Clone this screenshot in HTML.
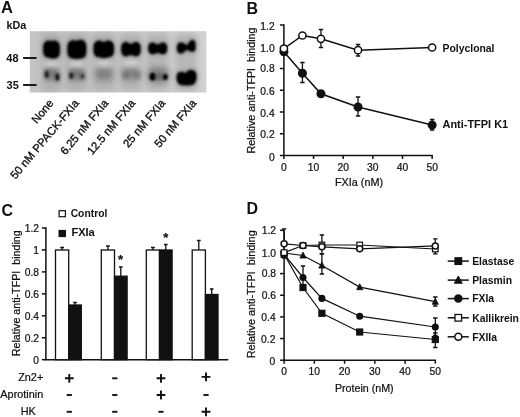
<!DOCTYPE html><html><head><meta charset="utf-8"><title>Figure</title>
<style>html,body{margin:0;padding:0;background:#fff;overflow:hidden}svg{display:block}text{font-family:"Liberation Sans",Arial,sans-serif;fill:#111}.t{stroke:#111;stroke-width:0.22px}.t{font-size:10.3px}.b{font-weight:bold;font-size:10.4px}.pl{font-weight:bold;font-size:16px}.ax{stroke:#111;stroke-width:1.5;fill:none}.ln{stroke:#111;stroke-width:1.5;fill:none}.eb{stroke:#111;stroke-width:1.3;fill:none}</style></head><body>
<svg width="520" height="417" viewBox="0 0 520 417">
<defs><filter id="b1" x="-30%" y="-30%" width="160%" height="160%"><feGaussianBlur stdDeviation="1.7"/></filter><filter id="b0" x="-50%" y="-50%" width="200%" height="200%"><feGaussianBlur stdDeviation="1.1"/></filter><filter id="b2" x="-30%" y="-30%" width="160%" height="160%"><feGaussianBlur stdDeviation="2.6"/></filter><filter id="b3" x="-50%" y="-50%" width="200%" height="200%"><feGaussianBlur stdDeviation="3"/></filter><linearGradient id="gb" x1="0" x2="1" y1="0" y2="0"><stop offset="0" stop-color="#c4c4c4"/><stop offset="1" stop-color="#d2d2d2"/></linearGradient><clipPath id="gc"><rect x="29.8" y="31.2" width="176.6" height="61.3"/></clipPath></defs>
<rect width="520" height="417" fill="#fff"/>
<text class="pl" x="1.0" y="13.2" style="font-size:16.5px">A</text>
<text class="b" x="6.5" y="29" textLength="19.8" lengthAdjust="spacingAndGlyphs">kDa</text>
<text class="b" x="6.3" y="61.5" textLength="12.2" lengthAdjust="spacingAndGlyphs">48</text>
<text class="b" x="6.6" y="88.8" textLength="12.2" lengthAdjust="spacingAndGlyphs">35</text>
<rect x="29.8" y="31.2" width="176.6" height="61.3" fill="url(#gb)"/>
<g clip-path="url(#gc)">
<rect x="41.5" y="33" width="20.0" height="58" rx="4" fill="#555" opacity="0.2" filter="url(#b3)"/>
<rect x="65.8" y="33" width="22.0" height="58" rx="4" fill="#555" opacity="0.2" filter="url(#b3)"/>
<rect x="92.3" y="33" width="23.0" height="58" rx="4" fill="#555" opacity="0.2" filter="url(#b3)"/>
<rect x="120.0" y="33" width="22.0" height="58" rx="4" fill="#555" opacity="0.2" filter="url(#b3)"/>
<rect x="146.8" y="33" width="22.0" height="58" rx="4" fill="#555" opacity="0.2" filter="url(#b3)"/>
<rect x="175.3" y="33" width="22.0" height="58" rx="4" fill="#555" opacity="0.2" filter="url(#b3)"/>
<ellipse cx="51.5" cy="63.3" rx="8" ry="3" fill="#fff" opacity="0.45" filter="url(#b2)"/>
<ellipse cx="76.8" cy="63.3" rx="8" ry="3" fill="#fff" opacity="0.45" filter="url(#b2)"/>
<ellipse cx="103.8" cy="63.3" rx="8" ry="3" fill="#fff" opacity="0.45" filter="url(#b2)"/>
<ellipse cx="131" cy="63.3" rx="8" ry="3" fill="#fff" opacity="0.45" filter="url(#b2)"/>
<path d="M45 72.5Q45 68.5 49 68.5Q51.75 68.5 54.5 68.5Q58.5 68.5 58.5 72.5L58.5 76Q58.5 80 54.5 80Q51.75 80.0 49 80Q45 80 45 76Z" fill="#000" opacity="0.3" filter="url(#b2)"/>
<ellipse cx="46.6" cy="74.3" rx="1.5" ry="3.6" fill="#000" opacity="0.85" filter="url(#b0)"/>
<ellipse cx="46.8" cy="74.3" rx="2.4" ry="4.5" fill="#000" opacity="0.35" filter="url(#b2)"/>
<ellipse cx="57.4" cy="77.2" rx="1.6" ry="3.6" fill="#000" opacity="0.95" filter="url(#b0)"/>
<ellipse cx="57.3" cy="77" rx="2.4" ry="4.5" fill="#000" opacity="0.35" filter="url(#b2)"/>
<path d="M69 73Q69 69 73 69Q77.0 69.0 81 69Q85 69 85 73L85 76Q85 80 81 80Q77.0 80.0 73 80Q69 80 69 76Z" fill="#000" opacity="0.3" filter="url(#b2)"/>
<ellipse cx="71.2" cy="75.6" rx="1.6" ry="3.2" fill="#000" opacity="0.85" filter="url(#b0)"/>
<ellipse cx="71.3" cy="75.6" rx="2.4" ry="4.2" fill="#000" opacity="0.35" filter="url(#b2)"/>
<ellipse cx="82.5" cy="76.5" rx="1.7" ry="2.4" fill="#000" opacity="0.5" filter="url(#b0)"/>
<ellipse cx="82.4" cy="76.3" rx="2.4" ry="3.5" fill="#000" opacity="0.3" filter="url(#b2)"/>
<path d="M95 73.5Q95 68.5 100 68.5Q104.0 68.5 108 68.5Q113 68.5 113 73.5L113 74.5Q113 79.5 108 79.5Q104.0 79.5 100 79.5Q95 79.5 95 74.5Z" fill="#000" opacity="0.3" filter="url(#b3)"/>
<path d="M122 73.5Q122 68.5 127 68.5Q131.0 68.5 135 68.5Q140 68.5 140 73.5L140 74.5Q140 79.5 135 79.5Q131.0 79.5 127 79.5Q122 79.5 122 74.5Z" fill="#000" opacity="0.3" filter="url(#b3)"/>
<ellipse cx="125" cy="75.5" rx="2.5" ry="3" fill="#000" opacity="0.3" filter="url(#b2)"/>
<ellipse cx="138" cy="75.5" rx="2.5" ry="3" fill="#000" opacity="0.3" filter="url(#b2)"/>
<path d="M148 73Q148 68 153 68Q158.25 68.0 163.5 68Q168.5 68 168.5 73L168.5 77Q168.5 82 163.5 82Q158.25 82.0 153 82Q148 82 148 77Z" fill="#000" opacity="0.33" filter="url(#b3)"/>
<ellipse cx="152.5" cy="76.7" rx="3.0" ry="3.9" fill="#000" opacity="1" filter="url(#b0)"/>
<ellipse cx="165.3" cy="77.1" rx="2.5" ry="3.0" fill="#000" opacity="1" filter="url(#b0)"/>
<ellipse cx="159" cy="77" rx="4" ry="2" fill="#000" opacity="0.35" filter="url(#b2)"/>
<path d="M176.7 77.5Q176.5 72.2 180.5 72Q183.5 72 185.8 73.2Q187.5 70 191 69.9Q196.4 70 196.4 76L196.3 78.5Q196 85.2 189 85.2L184 85.2Q177 85.2 176.7 78.5Z" fill="#000" opacity="0.5" filter="url(#b2)"/>
<path d="M176.7 77.5Q176.5 72.2 180.5 72Q183.5 72 185.8 73.2Q187.5 70 191 69.9Q196.4 70 196.4 76L196.3 78.5Q196 85.2 189 85.2L184 85.2Q177 85.2 176.7 78.5Z" fill="#000" opacity="1" filter="url(#b0)"/>
<path d="M43.3 46.9Q43.3 40.4 49.8 40.4Q51.5 42.4 53.2 40.4Q59.7 40.4 59.7 46.9L59.7 51.900000000000006Q59.7 58.400000000000006 53.2 58.400000000000006Q51.5 58.45 49.8 57.7Q43.3 57.7 43.3 51.2Z" fill="#000" opacity="0.45" filter="url(#b2)"/>
<path d="M43.3 46.9Q43.3 40.4 49.8 40.4Q51.5 42.4 53.2 40.4Q59.7 40.4 59.7 46.9L59.7 51.900000000000006Q59.7 58.400000000000006 53.2 58.400000000000006Q51.5 58.45 49.8 57.7Q43.3 57.7 43.3 51.2Z" fill="#000" opacity="1" filter="url(#b0)"/>
<path d="M67.5 46.8Q67.5 40.3 74.0 40.3Q76.85 42.05 79.7 39.8Q86.2 39.8 86.2 46.3L86.2 52.1Q86.2 58.6 79.7 58.6Q76.85 59.0 74.0 58.6Q67.5 58.6 67.5 52.1Z" fill="#000" opacity="0.45" filter="url(#b2)"/>
<path d="M67.5 46.8Q67.5 40.3 74.0 40.3Q76.85 42.05 79.7 39.8Q86.2 39.8 86.2 46.3L86.2 52.1Q86.2 58.6 79.7 58.6Q76.85 59.0 74.0 58.6Q67.5 58.6 67.5 52.1Z" fill="#000" opacity="1" filter="url(#b0)"/>
<path d="M93.6 46.9Q93.6 40.4 100.1 40.4Q103.75 43.6 107.4 40.4Q113.9 40.4 113.9 46.9L113.9 50.8Q113.9 57.3 107.4 57.3Q103.75 58.9 100.1 57.3Q93.6 57.3 93.6 50.8Z" fill="#000" opacity="0.45" filter="url(#b2)"/>
<path d="M93.6 46.9Q93.6 40.4 100.1 40.4Q103.75 43.6 107.4 40.4Q113.9 40.4 113.9 46.9L113.9 50.8Q113.9 57.3 107.4 57.3Q103.75 58.9 100.1 57.3Q93.6 57.3 93.6 50.8Z" fill="#000" opacity="1" filter="url(#b0)"/>
<path d="M121.3 47.6Q121.3 42.1 126.8 42.1Q130.9 45.9 135.0 42.1Q140.5 42.1 140.5 47.6L140.5 50.8Q140.5 56.3 135.0 56.3Q130.9 53.3 126.8 56.3Q121.3 56.3 121.3 50.8Z" fill="#000" opacity="0.45" filter="url(#b2)"/>
<path d="M121.3 47.6Q121.3 42.1 126.8 42.1Q130.9 45.9 135.0 42.1Q140.5 42.1 140.5 47.6L140.5 50.8Q140.5 56.3 135.0 56.3Q130.9 53.3 126.8 56.3Q121.3 56.3 121.3 50.8Z" fill="#000" opacity="1" filter="url(#b0)"/>
<path d="M148.3 47.5Q148.3 42.5 153.3 42.5Q157.7 46.5 162.1 42.5Q167.1 42.5 167.1 47.5L167.1 49.3Q167.1 54.3 162.1 54.3Q157.7 51.3 153.3 54.3Q148.3 54.3 148.3 49.3Z" fill="#000" opacity="0.45" filter="url(#b2)"/>
<path d="M148.3 47.5Q148.3 42.5 153.3 42.5Q157.7 46.5 162.1 42.5Q167.1 42.5 167.1 47.5L167.1 49.3Q167.1 54.3 162.1 54.3Q157.7 51.3 153.3 54.3Q148.3 54.3 148.3 49.3Z" fill="#000" opacity="1" filter="url(#b0)"/>
<path d="M177 47.5Q177 42.4 181.3 42.4Q184.5 43 186.3 45.4Q188.3 44.6 189.2 42.5Q190 39.9 192.4 40Q195.4 40.2 195.4 44.5L195.4 48Q195.4 52.2 192 51.8Q188.5 50.6 186.3 49.6Q184.5 52.6 181.5 53.4Q177 53.6 177 49Z" fill="#000" opacity="0.5" filter="url(#b2)"/>
<path d="M177 47.5Q177 42.4 181.3 42.4Q184.5 43 186.3 45.4Q188.3 44.6 189.2 42.5Q190 39.9 192.4 40Q195.4 40.2 195.4 44.5L195.4 48Q195.4 52.2 192 51.8Q188.5 50.6 186.3 49.6Q184.5 52.6 181.5 53.4Q177 53.6 177 49Z" fill="#000" opacity="1" filter="url(#b0)"/>
</g>
<line x1="23.1" y1="58" x2="36.6" y2="58" stroke="#111" stroke-width="1.9"/>
<line x1="23.1" y1="85" x2="36.6" y2="85" stroke="#111" stroke-width="1.9"/>
<text class="t" style="font-size:11.3px;stroke-width:0.35px" text-anchor="end" transform="translate(54,103.5) rotate(-50)">None</text>
<text class="t" style="font-size:11.3px;stroke-width:0.35px" text-anchor="end" transform="translate(79.5,103.5) rotate(-50)">50 nM PPACK-FXIa</text>
<text class="t" style="font-size:11.3px;stroke-width:0.35px" text-anchor="end" transform="translate(109,103.5) rotate(-50)">6.25 nM FXIa</text>
<text class="t" style="font-size:11.3px;stroke-width:0.35px" text-anchor="end" transform="translate(135.8,103.5) rotate(-50)">12.5 nM FXIa</text>
<text class="t" style="font-size:11.3px;stroke-width:0.35px" text-anchor="end" transform="translate(165.8,103.5) rotate(-50)">25 nM FXIa</text>
<text class="t" style="font-size:11.3px;stroke-width:0.35px" text-anchor="end" transform="translate(197,103.5) rotate(-50)">50 nM FXIa</text>
<text class="pl" x="246.5" y="14">B</text>
<path class="ax" d="M283.9 24.3V155.5H432.84999999999997"/>
<line class="ax" x1="279.9" x2="283.9" y1="155.5" y2="155.5"/>
<text class="t" text-anchor="end" x="274.7" y="160.5">0</text>
<line class="ax" x1="279.9" x2="283.9" y1="133.75" y2="133.75"/>
<text class="t" text-anchor="end" x="274.7" y="138.25">0.2</text>
<line class="ax" x1="279.9" x2="283.9" y1="112.0" y2="112.0"/>
<text class="t" text-anchor="end" x="274.7" y="116.5">0.4</text>
<line class="ax" x1="279.9" x2="283.9" y1="90.25" y2="90.25"/>
<text class="t" text-anchor="end" x="274.7" y="95.25">0.6</text>
<line class="ax" x1="279.9" x2="283.9" y1="68.5" y2="68.5"/>
<text class="t" text-anchor="end" x="274.7" y="72.39999999999999">0.8</text>
<line class="ax" x1="279.9" x2="283.9" y1="46.75" y2="46.75"/>
<text class="t" text-anchor="end" x="274.7" y="52.449999999999996">1.0</text>
<line class="ax" x1="279.9" x2="283.9" y1="25.0" y2="25.0"/>
<text class="t" text-anchor="end" x="274.7" y="29.8">1.2</text>
<line class="ax" x1="283.9" x2="283.9" y1="155.5" y2="159.0"/>
<text class="t" text-anchor="middle" x="283.9" y="170.5">0</text>
<line class="ax" x1="313.55" x2="313.55" y1="155.5" y2="159.0"/>
<text class="t" text-anchor="middle" x="313.55" y="170.5">10</text>
<line class="ax" x1="343.2" x2="343.2" y1="155.5" y2="159.0"/>
<text class="t" text-anchor="middle" x="343.2" y="170.5">20</text>
<line class="ax" x1="372.85" x2="372.85" y1="155.5" y2="159.0"/>
<text class="t" text-anchor="middle" x="372.85" y="170.5">30</text>
<line class="ax" x1="402.5" x2="402.5" y1="155.5" y2="159.0"/>
<text class="t" text-anchor="middle" x="402.5" y="170.5">40</text>
<line class="ax" x1="432.15" x2="432.15" y1="155.5" y2="159.0"/>
<text class="t" text-anchor="middle" x="432.15" y="170.5">50</text>
<text class="t" text-anchor="middle" x="359" y="186.2" textLength="48.2" lengthAdjust="spacingAndGlyphs">FXIa (nM)</text>
<text class="t" style="font-size:10.5px;white-space:pre" text-anchor="middle" textLength="125.9" lengthAdjust="spacingAndGlyphs" transform="translate(254.9,90.5) rotate(-90)">Relative anti-TFPI  binding</text>
<path class="ln" style="stroke-width:1.5" d="M283.9 51.8 L302.43 73.3 L320.96 93.8 L358.02 107 L432.15 125.1"/>
<path class="eb" d="M302.43 62.5V82.5M300.23 62.5h4.4M300.23 82.5h4.4"/>
<path class="eb" d="M358.02 97V116M355.82 97h4.4M355.82 116h4.4"/>
<path class="eb" d="M432.15 119.5V130M429.95 119.5h4.4M429.95 130h4.4"/>
<circle cx="283.9" cy="51.8" r="3.8" fill="#111" stroke="#111" stroke-width="1.5"/>
<circle cx="302.43" cy="73.3" r="3.8" fill="#111" stroke="#111" stroke-width="1.5"/>
<circle cx="320.96" cy="93.8" r="3.8" fill="#111" stroke="#111" stroke-width="1.5"/>
<circle cx="358.02" cy="107" r="3.8" fill="#111" stroke="#111" stroke-width="1.5"/>
<circle cx="432.15" cy="125.1" r="3.8" fill="#111" stroke="#111" stroke-width="1.5"/>
<path class="ln" style="stroke-width:1.5" d="M283.9 48.6 L302.43 35.5 L320.96 38.8 L358.02 50.2 L432.15 47.5"/>
<path class="eb" d="M320.96 29.5V47.5M318.76 29.5h4.4M318.76 47.5h4.4"/>
<path class="eb" d="M358.02 44.5V56M355.82 44.5h4.4M355.82 56h4.4"/>
<circle cx="283.9" cy="48.6" r="3.6" fill="#fff" stroke="#111" stroke-width="1.5"/>
<circle cx="302.43" cy="35.5" r="3.6" fill="#fff" stroke="#111" stroke-width="1.5"/>
<circle cx="320.96" cy="38.8" r="3.6" fill="#fff" stroke="#111" stroke-width="1.5"/>
<circle cx="358.02" cy="50.2" r="3.6" fill="#fff" stroke="#111" stroke-width="1.5"/>
<circle cx="432.15" cy="47.5" r="3.6" fill="#fff" stroke="#111" stroke-width="1.5"/>
<text class="b" x="442.5" y="52.3" textLength="52" lengthAdjust="spacingAndGlyphs">Polyclonal</text>
<text class="b" x="442.5" y="128.3" textLength="65.7" lengthAdjust="spacingAndGlyphs">Anti-TFPI K1</text>
<text class="pl" x="1.5" y="216.3">C</text>
<path class="ax" d="M45.9 227.3V359.7H228.3"/>
<line class="ax" x1="41.9" x2="45.9" y1="359.7" y2="359.7"/>
<text class="t" text-anchor="end" x="39.1" y="363.5">0</text>
<line class="ax" x1="41.9" x2="45.9" y1="337.75" y2="337.75"/>
<text class="t" text-anchor="end" x="39.1" y="341.55">0.2</text>
<line class="ax" x1="41.9" x2="45.9" y1="315.8" y2="315.8"/>
<text class="t" text-anchor="end" x="39.1" y="319.6">0.4</text>
<line class="ax" x1="41.9" x2="45.9" y1="293.85" y2="293.85"/>
<text class="t" text-anchor="end" x="39.1" y="297.65000000000003">0.6</text>
<line class="ax" x1="41.9" x2="45.9" y1="271.9" y2="271.9"/>
<text class="t" text-anchor="end" x="39.1" y="275.7">0.8</text>
<line class="ax" x1="41.9" x2="45.9" y1="249.95" y2="249.95"/>
<text class="t" text-anchor="end" x="39.1" y="253.75">1</text>
<line class="ax" x1="41.9" x2="45.9" y1="228.0" y2="228.0"/>
<text class="t" text-anchor="end" x="39.1" y="231.8">1.2</text>
<text class="t" style="font-size:10.5px;white-space:pre" text-anchor="middle" textLength="125.9" lengthAdjust="spacingAndGlyphs" transform="translate(20.2,293.3) rotate(-90)">Relative anti-TFPI  binding</text>
<path class="eb" d="M62.1 250V247.5M60.2 247.5h3.8"/>
<path class="eb" d="M75.0 305V302.5M73.2 302.5h3.6"/>
<rect x="55.5" y="250" width="13.2" height="109.69999999999999" fill="#fff" stroke="#111" stroke-width="1.3"/>
<rect x="68.7" y="305" width="12.6" height="54.69999999999999" fill="#111" stroke="#111" stroke-width="1.3"/>
<path class="eb" d="M107.89999999999999 250V246M105.99999999999999 246h3.8"/>
<path class="eb" d="M120.8 276.2V267M119.0 267h3.6"/>
<rect x="101.3" y="250" width="13.2" height="109.69999999999999" fill="#fff" stroke="#111" stroke-width="1.3"/>
<rect x="114.5" y="276.2" width="12.6" height="83.5" fill="#111" stroke="#111" stroke-width="1.3"/>
<path class="eb" d="M152.9 250V247.5M151.0 247.5h3.8"/>
<path class="eb" d="M165.8 250V244.5M164.0 244.5h3.6"/>
<rect x="146.3" y="250" width="13.2" height="109.69999999999999" fill="#fff" stroke="#111" stroke-width="1.3"/>
<rect x="159.5" y="250" width="12.6" height="109.69999999999999" fill="#111" stroke="#111" stroke-width="1.3"/>
<path class="eb" d="M198.79999999999998 250V240.5M196.89999999999998 240.5h3.8"/>
<path class="eb" d="M211.7 294.5V289M209.89999999999998 289h3.6"/>
<rect x="192.2" y="250" width="13.2" height="109.69999999999999" fill="#fff" stroke="#111" stroke-width="1.3"/>
<rect x="205.39999999999998" y="294.5" width="12.6" height="65.19999999999999" fill="#111" stroke="#111" stroke-width="1.3"/>
<text class="t" style="font-size:13px;font-weight:bold" text-anchor="middle" x="120.6" y="264.4">*</text>
<text class="t" style="font-size:13px;font-weight:bold" text-anchor="middle" x="165.8" y="241.6">*</text>
<rect x="59.1" y="210.7" width="6.3" height="6" fill="#fff" stroke="#111" stroke-width="1.2"/>
<rect x="59.1" y="230.5" width="6.3" height="6" fill="#111" stroke="#111" stroke-width="1.2"/>
<text class="b" x="70.7" y="217.1" textLength="36.6" lengthAdjust="spacingAndGlyphs">Control</text>
<text class="b" x="71.4" y="236.4" textLength="23.4" lengthAdjust="spacingAndGlyphs">FXIa</text>
<text class="t" style="font-size:10.9px" text-anchor="end" x="43.3" y="380.7">Zn2+</text>
<text class="t" style="font-size:10.9px" text-anchor="end" x="43.3" y="398.2">Aprotinin</text>
<text class="t" style="font-size:10.9px" x="20.7" y="415.3">HK</text>
<path d="M64.89999999999999 378.3h8.8M69.3 373.90000000000003v8.8" stroke="#111" stroke-width="1.9"/>
<path d="M112.2 378.3h5.2" stroke="#111" stroke-width="1.9"/>
<path d="M156.6 378.3h8.8M161 373.90000000000003v8.8" stroke="#111" stroke-width="1.9"/>
<path d="M201.6 376.90000000000003h8.8M206 372.50000000000006v8.8" stroke="#111" stroke-width="1.9"/>
<path d="M66.7 395h5.2" stroke="#111" stroke-width="1.9"/>
<path d="M112.2 395h5.2" stroke="#111" stroke-width="1.9"/>
<path d="M156.6 395h8.8M161 390.6v8.8" stroke="#111" stroke-width="1.9"/>
<path d="M203.4 395h5.2" stroke="#111" stroke-width="1.9"/>
<path d="M66.7 411.8h5.2" stroke="#111" stroke-width="1.9"/>
<path d="M112.2 411.8h5.2" stroke="#111" stroke-width="1.9"/>
<path d="M158.4 411.8h5.2" stroke="#111" stroke-width="1.9"/>
<path d="M201.6 411.8h8.8M206 407.40000000000003v8.8" stroke="#111" stroke-width="1.9"/>
<text class="pl" x="246.5" y="214">D</text>
<path class="ax" d="M284.1 229.60000000000002V360.2H436.0"/>
<line class="ax" x1="280.1" x2="284.1" y1="360.2" y2="360.2"/>
<text class="t" text-anchor="end" x="275.20000000000005" y="364.9">0</text>
<line class="ax" x1="280.1" x2="284.1" y1="338.55" y2="338.55"/>
<text class="t" text-anchor="end" x="275.40000000000003" y="342.65000000000003">0.2</text>
<line class="ax" x1="280.1" x2="284.1" y1="316.9" y2="316.9"/>
<text class="t" text-anchor="end" x="275.70000000000005" y="320.7">0.4</text>
<line class="ax" x1="280.1" x2="284.1" y1="295.25" y2="295.25"/>
<text class="t" text-anchor="end" x="276.1" y="299.05">0.6</text>
<line class="ax" x1="280.1" x2="284.1" y1="273.6" y2="273.6"/>
<text class="t" text-anchor="end" x="276.1" y="277.40000000000003">0.8</text>
<line class="ax" x1="280.1" x2="284.1" y1="251.95" y2="251.95"/>
<text class="t" text-anchor="end" x="276.1" y="256.85">1.0</text>
<line class="ax" x1="280.1" x2="284.1" y1="230.3" y2="230.3"/>
<text class="t" text-anchor="end" x="276.1" y="234.10000000000002">1.2</text>
<line class="ax" x1="284.1" x2="284.1" y1="360.2" y2="363.7"/>
<text class="t" text-anchor="middle" x="284.1" y="375.2">0</text>
<line class="ax" x1="314.34" x2="314.34" y1="360.2" y2="363.7"/>
<text class="t" text-anchor="middle" x="314.34" y="375.2">10</text>
<line class="ax" x1="344.58" x2="344.58" y1="360.2" y2="363.7"/>
<text class="t" text-anchor="middle" x="344.58" y="375.2">20</text>
<line class="ax" x1="374.82" x2="374.82" y1="360.2" y2="363.7"/>
<text class="t" text-anchor="middle" x="374.82" y="375.2">30</text>
<line class="ax" x1="405.06" x2="405.06" y1="360.2" y2="363.7"/>
<text class="t" text-anchor="middle" x="405.06" y="375.2">40</text>
<line class="ax" x1="435.3" x2="435.3" y1="360.2" y2="363.7"/>
<text class="t" text-anchor="middle" x="435.3" y="375.2">50</text>
<text class="t" text-anchor="middle" x="364.3" y="391.8" textLength="58.8" lengthAdjust="spacingAndGlyphs">Protein (nM)</text>
<text class="t" style="font-size:10.5px;white-space:pre" text-anchor="middle" textLength="128" lengthAdjust="spacingAndGlyphs" transform="translate(254.7,294.3) rotate(-90)">Relative anti-TFPI  binding</text>
<path class="ln" style="stroke-width:1.2" d="M284.1 254.3 L303.0 287.5 L321.9 313.3 L359.7 332 L435.3 339.5"/>
<path class="eb" d="M435.3 333V347.5M433.1 333h4.4M433.1 347.5h4.4"/>
<rect x="281.1" y="251.3" width="6.0" height="6.0" fill="#111" stroke="#111" stroke-width="1.2"/>
<rect x="300.0" y="284.5" width="6.0" height="6.0" fill="#111" stroke="#111" stroke-width="1.2"/>
<rect x="318.9" y="310.3" width="6.0" height="6.0" fill="#111" stroke="#111" stroke-width="1.2"/>
<rect x="356.7" y="329.0" width="6.0" height="6.0" fill="#111" stroke="#111" stroke-width="1.2"/>
<rect x="432.3" y="336.5" width="6.0" height="6.0" fill="#111" stroke="#111" stroke-width="1.2"/>
<path class="ln" style="stroke-width:1.2" d="M284.1 253 L303.0 255.5 L321.9 265.5 L359.7 287.1 L435.3 301.7"/>
<path class="eb" d="M321.9 253.8V274M319.7 253.8h4.4M319.7 274h4.4"/>
<path class="eb" d="M435.3 297V306M433.1 297h4.4M433.1 306h4.4"/>
<path d="M284.1 249.6L287.20000000000005 255.6H281.0Z" fill="#111" stroke="#111" stroke-width="0.8"/>
<path d="M303.0 252.1L306.1 258.1H299.9Z" fill="#111" stroke="#111" stroke-width="0.8"/>
<path d="M321.9 262.1L325.0 268.1H318.79999999999995Z" fill="#111" stroke="#111" stroke-width="0.8"/>
<path d="M359.7 283.70000000000005L362.8 289.70000000000005H356.59999999999997Z" fill="#111" stroke="#111" stroke-width="0.8"/>
<path d="M435.3 298.3L438.40000000000003 304.3H432.2Z" fill="#111" stroke="#111" stroke-width="0.8"/>
<path class="ln" style="stroke-width:1.2" d="M284.1 254.3 L303.0 277.5 L321.9 298.4 L359.7 316.2 L435.3 327"/>
<path class="eb" d="M303.0 266V287M300.8 266h4.4M300.8 287h4.4"/>
<path class="eb" d="M435.3 318V335.5M433.1 318h4.4M433.1 335.5h4.4"/>
<circle cx="284.1" cy="254.3" r="2.8" fill="#111" stroke="#111" stroke-width="1.5"/>
<circle cx="303.0" cy="277.5" r="2.8" fill="#111" stroke="#111" stroke-width="1.5"/>
<circle cx="321.9" cy="298.4" r="2.8" fill="#111" stroke="#111" stroke-width="1.5"/>
<circle cx="359.7" cy="316.2" r="2.8" fill="#111" stroke="#111" stroke-width="1.5"/>
<circle cx="435.3" cy="327" r="2.8" fill="#111" stroke="#111" stroke-width="1.5"/>
<path class="ln" style="stroke-width:1.2" d="M284.1 252.6 L303.0 245.5 L321.9 245 L359.7 245 L435.3 249"/>
<path class="eb" d="M284.1 228.8V258M281.90000000000003 228.8h4.4M281.90000000000003 258h4.4"/>
<path class="eb" d="M321.9 235V253.8M319.7 235h4.4M319.7 253.8h4.4"/>
<path class="eb" d="M435.3 238.8V253.8M433.1 238.8h4.4M433.1 253.8h4.4"/>
<rect x="281.3" y="249.79999999999998" width="5.6" height="5.6" fill="#fff" stroke="#111" stroke-width="1.2"/>
<rect x="300.2" y="242.7" width="5.6" height="5.6" fill="#fff" stroke="#111" stroke-width="1.2"/>
<rect x="319.09999999999997" y="242.2" width="5.6" height="5.6" fill="#fff" stroke="#111" stroke-width="1.2"/>
<rect x="356.9" y="242.2" width="5.6" height="5.6" fill="#fff" stroke="#111" stroke-width="1.2"/>
<rect x="432.5" y="246.2" width="5.6" height="5.6" fill="#fff" stroke="#111" stroke-width="1.2"/>
<path class="ln" style="stroke-width:1.2" d="M284.1 243.8 L303.0 245.5 L321.9 246.8 L359.7 248.8 L435.3 245.9"/>
<circle cx="284.1" cy="243.8" r="3.0" fill="#fff" stroke="#111" stroke-width="1.5"/>
<circle cx="303.0" cy="245.5" r="3.0" fill="#fff" stroke="#111" stroke-width="1.5"/>
<circle cx="321.9" cy="246.8" r="3.0" fill="#fff" stroke="#111" stroke-width="1.5"/>
<circle cx="359.7" cy="248.8" r="3.0" fill="#fff" stroke="#111" stroke-width="1.5"/>
<circle cx="435.3" cy="245.9" r="3.0" fill="#fff" stroke="#111" stroke-width="1.5"/>
<line class="ln" x1="447.7" x2="468.8" y1="261.1" y2="261.1"/>
<rect x="455.0" y="257.8" width="6.6" height="6.6" fill="#111" stroke="#111" stroke-width="1.3"/>
<text class="b" x="472.2" y="264.8">Elastase</text>
<line class="ln" x1="447.7" x2="468.8" y1="280.1" y2="280.1"/>
<path d="M458.3 276.0L462.2 283.20000000000005H454.40000000000003Z" fill="#111" stroke="#111" stroke-width="1"/>
<text class="b" x="472.2" y="283.8">Plasmin</text>
<line class="ln" x1="447.7" x2="468.8" y1="298.6" y2="298.6"/>
<circle cx="458.3" cy="298.6" r="3.5" fill="#111" stroke="#111" stroke-width="1.5"/>
<text class="b" x="472.2" y="302.3">FXIa</text>
<line class="ln" x1="447.7" x2="468.8" y1="317.8" y2="317.8"/>
<rect x="455.0" y="314.5" width="6.6" height="6.6" fill="#fff" stroke="#111" stroke-width="1.3"/>
<text class="b" x="472.2" y="321.5">Kallikrein</text>
<line class="ln" x1="447.7" x2="468.8" y1="336.8" y2="336.8"/>
<circle cx="458.3" cy="336.8" r="3.5" fill="#fff" stroke="#111" stroke-width="1.5"/>
<text class="b" x="472.2" y="340.5">FXIIa</text>
</svg></body></html>
